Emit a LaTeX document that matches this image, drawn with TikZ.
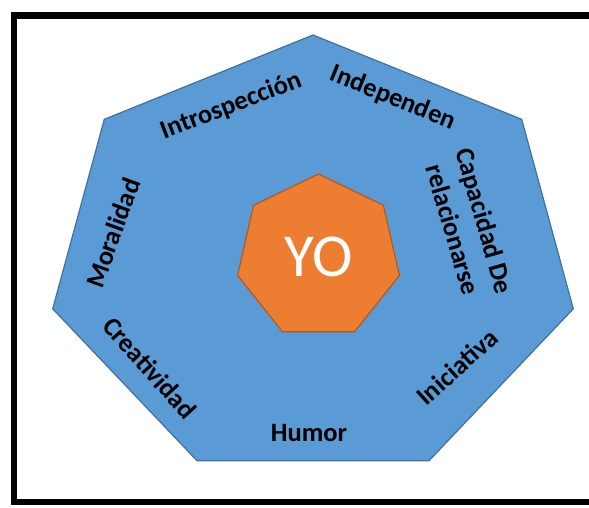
\documentclass[tikz,border=0pt]{standalone}
\usepackage{fontspec}
\setmainfont{Carlito}
\usetikzlibrary{shapes.geometric}
\definecolor{hexblue}{HTML}{5B9BD5}
\definecolor{hexblueline}{HTML}{41719C}
\definecolor{hexorange}{HTML}{ED7D31}
\definecolor{hexorangeline}{HTML}{AE5A21}
\tikzset{
  lbl/.style={font=\fontsize{26.5}{33}\selectfont\bfseries, text=black, inner sep=0pt},
  outerhept/.style={fill=hexblue, draw=hexblueline, line width=1.2pt, line join=miter},
  innerhept/.style={regular polygon, regular polygon sides=7, minimum size=166pt,
    fill=hexorange, draw=hexorangeline, line width=1.2pt, inner sep=0pt,
    text=white, font=\fontsize{61}{62}\selectfont},
  frame/.style={draw=black, line width=6.5pt}
}
\begin{document}
\begin{tikzpicture}[x=1pt,y=-1pt]
\useasboundingbox (0,0) rectangle (589,507);
\draw[frame] (14,15.5) rectangle (596,502);
\draw[outerhept] (313,35) -- (104.3,119.3) -- (52.7,308.8) -- (197.1,460.8)
  -- (428.9,460.8) -- (573.3,308.8) -- (521.7,119.3) -- cycle;
\node[innerhept] (yo) at (318.5,257) {YO};
\node[lbl, rotate=21] (intro) at (231,106) {Introspección};
\node[lbl, rotate=-22] (indep) at (393,98) {Independen};
\node[lbl, rotate=-74, align=center] (capa) at (469,225) {Capacidad De\\relacionarse};
\node[lbl, rotate=42] (inic) at (457,367) {Iniciativa};
\node[lbl] (humor) at (309,433) {Humor};
\node[lbl, rotate=-48] (crea) at (150,368) {Creatividad};
\node[lbl, rotate=70] (moral) at (113,233) {Moralidad};
\end{tikzpicture}
\end{document}
